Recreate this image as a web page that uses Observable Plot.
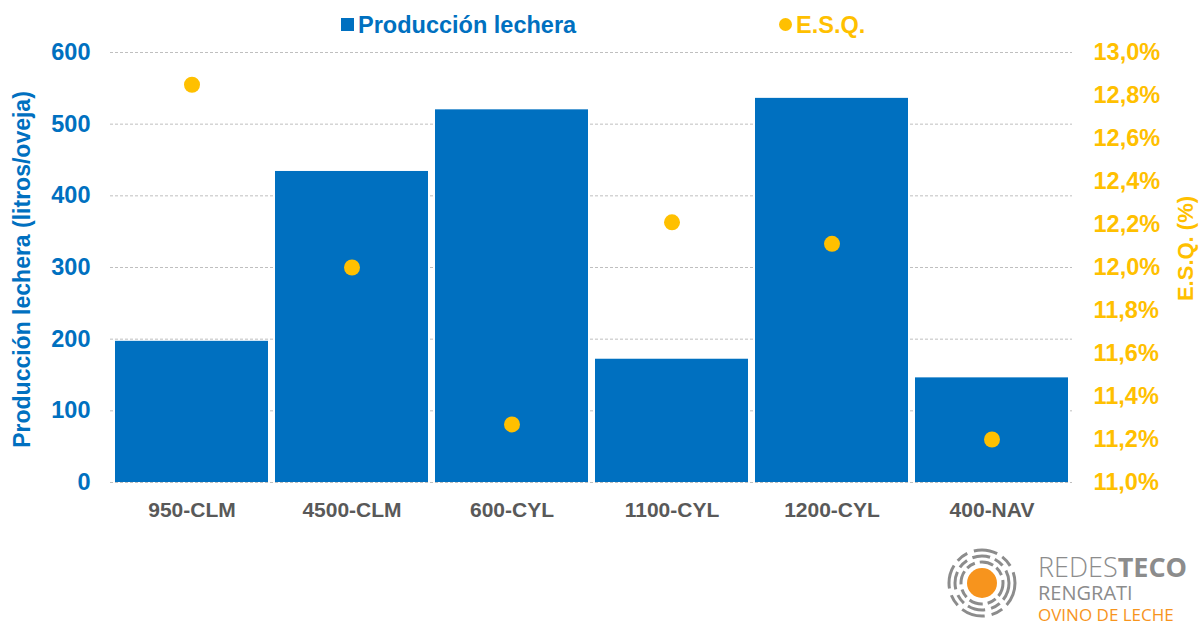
<!DOCTYPE html>
<html>
<head>
<meta charset="utf-8">
<script src="https://cdn.jsdelivr.net/npm/d3@7"></script>
<script src="https://cdn.jsdelivr.net/npm/@observablehq/plot@0.6"></script>
<style>
  html, body { margin: 0; padding: 0; background: #fff; }
  body { width: 1199px; height: 624px; overflow: hidden; font-family: "Liberation Sans", Arial, sans-serif; }
  #wrap { position: relative; width: 1199px; height: 624px; }
  #chart { position: absolute; left: 0; top: 0; }
  .legend { position: absolute; top: 12px; font-weight: bold; font-size: 23.5px; white-space: nowrap; }
  .top-cut { position: absolute; left: 0; top: -15px; color: #7f7f7f; font-size: 22px; }
  #logo { position: absolute; left: 940px; top: 545px; width: 259px; height: 79px; }
</style>
</head>
<body>
<div id="wrap">
  <div class="top-cut">(...),</div>
  <div id="chart"></div>
  <div class="legend" style="left:341px;color:#0070C0;"><span style="display:inline-block;width:13px;height:13px;background:#0070C0;margin-right:4px;vertical-align:2px;"></span>Producción lechera</div>
  <div class="legend" style="left:779px;color:#FFC000;"><span style="display:inline-block;width:13px;height:13px;border-radius:50%;background:#FFC000;margin-right:4px;vertical-align:2px;"></span>E.S.Q.</div>
  <svg id="logo" viewBox="0 0 259 79">
    <g fill="none" stroke="#8c8c8c" stroke-linecap="butt">
      <circle cx="42" cy="38" r="21" stroke-width="3" stroke-dasharray="14 4 9 5"/>
      <circle cx="42" cy="38" r="27" stroke-width="3" stroke-dasharray="18 5 10 6"/>
      <circle cx="42" cy="38" r="33" stroke-width="3" stroke-dasharray="24 6 12 7"/>
    </g>
    <circle cx="42" cy="38" r="15" fill="#F7941D"/>
    <text x="98" y="32" font-family="Open Sans, Liberation Sans, sans-serif" font-size="27" fill="#8c8c8c" font-weight="300">REDES<tspan font-weight="bold">TECO</tspan></text>
    <text x="98" y="55" font-family="Open Sans, Liberation Sans, sans-serif" font-size="20" fill="#8c8c8c">RENGRATI</text>
    <text x="98" y="76" font-family="Open Sans, Liberation Sans, sans-serif" font-size="17" fill="#F7941D">OVINO DE LECHE</text>
  </svg>
</div>
<script>
// Data
const categories = ["950-CLM", "4500-CLM", "600-CYL", "1100-CYL", "1200-CYL", "400-NAV"];
const produccion = [197, 434, 520, 172, 536, 146];
const esq = [12.85, 12.00, 11.27, 12.21, 12.11, 11.20];
const leftTicks = [0, 100, 200, 300, 400, 500, 600];
const rightTickValues = [11.0, 11.2, 11.4, 11.6, 11.8, 12.0, 12.2, 12.4, 12.6, 12.8, 13.0];
const rightTickLabels = ["11,0%", "11,2%", "11,4%", "11,6%", "11,8%", "12,0%", "12,2%", "12,4%", "12,6%", "12,8%", "13,0%"];

// Secondary axis mapping: 11%..13% -> 0..600
const esqMin = 11, esqMax = 13, yMax = 600;
const toY = v => (v - esqMin) / (esqMax - esqMin) * yMax;

const rows = categories.map((c, i) => ({cat: c, prod: produccion[i], esq: esq[i], esqY: toY(esq[i])}));
const rightTicks = rightTickValues.map((v, i) => ({pos: toY(v), label: rightTickLabels[i]}));

const blue = "#0070C0", gold = "#FFC000", gray = "#595959";
const font = "Liberation Sans, Arial, sans-serif";

const chart = Plot.plot({
  width: 1199,
  height: 624,
  marginTop: 52,
  marginBottom: 142,
  marginLeft: 110,
  marginRight: 127,
  style: {fontFamily: font, background: "white"},
  x: {domain: categories, paddingInner: 0.045, paddingOuter: 0.02, label: null},
  y: {domain: [0, 600], label: null},
  marks: [
    Plot.gridY(leftTicks, {stroke: "#bfbfbf", strokeOpacity: 1, strokeDasharray: "3,2", strokeWidth: 1}),
    Plot.barY(rows, {x: "cat", y: "prod", fill: blue}),
    Plot.dot(rows, {x: "cat", y: "esqY", r: 8, fill: gold, stroke: null}),
    Plot.axisX({tickSize: 0, tickPadding: 20, fontSize: 21, fontWeight: "bold", fill: gray, label: null}),
    Plot.axisY(leftTicks, {anchor: "left", tickSize: 0, tickPadding: 20, fontSize: 23.5, fontWeight: "bold", fill: blue, label: null}),
    Plot.axisY(rightTicks.map(d => d.pos), {anchor: "right", tickSize: 0, tickPadding: 21, fontSize: 23.5, fontWeight: "bold", fill: gold, label: null,
      tickFormat: p => rightTicks.find(t => Math.abs(t.pos - p) < 1e-6).label}),
    Plot.text(["Producción lechera (litros/oveja)"], {frameAnchor: "left", dx: -88, dy: 2, rotate: -90, textAnchor: "middle", fontSize: 23, fontWeight: "bold", fill: blue}),
    Plot.text(["E.S.Q. (%)"], {frameAnchor: "right", dx: 113, dy: -19, rotate: -90, textAnchor: "middle", fontSize: 22, fontWeight: "bold", fill: gold})
  ]
});
document.getElementById("chart").appendChild(chart);
</script>
</body>
</html>
